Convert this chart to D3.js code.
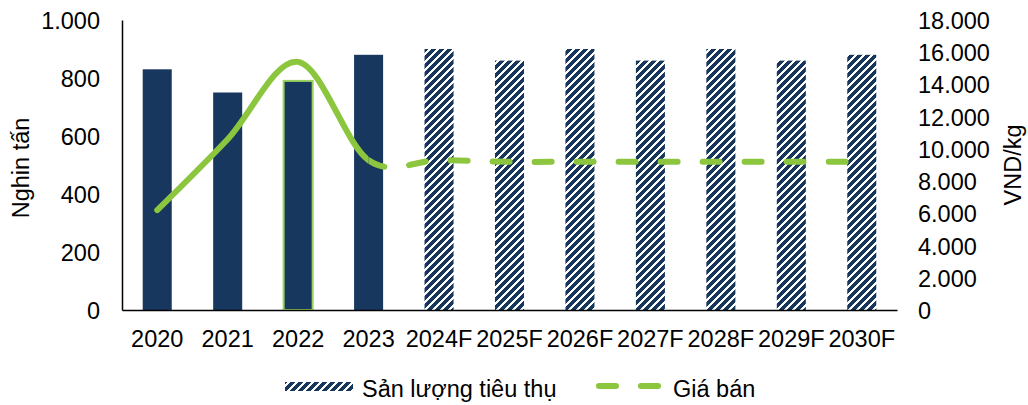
<!DOCTYPE html>
<html>
<head>
<meta charset="utf-8">
<script src="https://cdn.jsdelivr.net/npm/d3@7"></script>
<style>
  html, body { margin: 0; padding: 0; background: #fff; }
  svg { display: block; }
  text { font-family: "Liberation Sans", Arial, sans-serif; fill: #000; }
</style>
</head>
<body>
<svg id="chart" width="1028" height="405"></svg>
<script>
// Categories and series
const categories = ["2020", "2021", "2022", "2023", "2024F", "2025F", "2026F", "2027F", "2028F", "2029F", "2030F"];
const volume = [830, 750, 790, 880, 900, 860, 900, 860, 900, 860, 880];          // Nghìn tấn
const price = [6200, 10600, 15400, 9300, 9300, 9200, 9200, 9200, 9200, 9200, 9200]; // VND/kg
const leftTicks = [0, 200, 400, 600, 800, 1000];
const rightTicks = [0, 2000, 4000, 6000, 8000, 10000, 12000, 14000, 16000, 18000];
const highlighted = ["2022"];
const dashFrom = "2023";
const legendLabels = ["Sản lượng tiêu thụ", "Giá bán"];

const navy = "#17375e";
const green = "#8cc63f";
const fontSize = 23.5;

const svg = d3.select("#chart");
const vn = d3.formatLocale({ decimal: ",", thousands: ".", grouping: [3], currency: ["", "₫"] });
const fmt = vn.format(",d");

const plot = { left: 122, right: 897, top: 20, bottom: 310 };

const x = d3.scaleBand()
  .domain(categories)
  .range([plot.left, plot.right])
  .paddingInner(0.588)
  .paddingOuter(0.294);
const yL = d3.scaleLinear().domain([0, 1000]).range([plot.bottom, plot.top]);
const yR = d3.scaleLinear().domain([0, 18000]).range([plot.bottom, plot.top]);

// Hatched fill for forecast bars (wide upward diagonal)
const defs = svg.append("defs");
const pat = defs.append("pattern")
  .attr("id", "hatch")
  .attr("patternUnits", "userSpaceOnUse")
  .attr("width", 8).attr("height", 8);
pat.append("rect").attr("width", 8).attr("height", 8).attr("fill", "#fff");
for (let r = 0; r < 8; r++) {
  const start = (8 - r) % 8;
  for (let k = 0; k < 5; k++) {
    pat.append("rect")
      .attr("x", (start + k) % 8).attr("y", r)
      .attr("width", 1).attr("height", 1)
      .attr("fill", navy)
      .attr("shape-rendering", "crispEdges");
  }
}

const isForecast = c => c.endsWith("F");

// Bars
svg.append("g").selectAll("rect")
  .data(categories.map((c, i) => ({ c, v: volume[i] })))
  .join("rect")
  .attr("x", d => x(d.c))
  .attr("y", d => yL(d.v))
  .attr("width", x.bandwidth())
  .attr("height", d => yL(0) - yL(d.v))
  .attr("fill", d => isForecast(d.c) ? "url(#hatch)" : navy)
  .attr("stroke", d => highlighted.includes(d.c) ? "#9bd15f" : "none")
  .attr("stroke-width", 2);

// Axes
const axisG = svg.append("g");
axisG.append("g")
  .attr("transform", `translate(${plot.left},0)`)
  .call(d3.axisLeft(yL).tickValues(leftTicks).tickSize(0).tickPadding(22).tickFormat(fmt))
  .call(g => g.select(".domain").attr("stroke", "#000").attr("stroke-width", 1.5))
  .call(g => g.selectAll("text").attr("font-size", fontSize).attr("font-family", "Liberation Sans, Arial, sans-serif").attr("dy", "0.36em"));

axisG.append("g")
  .attr("transform", `translate(${plot.right},0)`)
  .call(d3.axisRight(yR).tickValues(rightTicks).tickSize(0).tickPadding(21).tickFormat(fmt))
  .call(g => g.select(".domain").remove())
  .call(g => g.selectAll("text").attr("font-size", fontSize).attr("font-family", "Liberation Sans, Arial, sans-serif").attr("dy", "0.36em"));

axisG.append("g")
  .attr("transform", `translate(0,${plot.bottom})`)
  .call(d3.axisBottom(x).tickSize(0).tickPadding(20))
  .call(g => g.select(".domain").attr("stroke", "#000").attr("stroke-width", 1.5))
  .call(g => g.selectAll("text").attr("font-size", fontSize).attr("font-family", "Liberation Sans, Arial, sans-serif").attr("dy", "0.71em"));

// Axis titles
svg.append("text")
  .attr("transform", "translate(29,168) rotate(-90)")
  .attr("text-anchor", "middle")
  .attr("font-size", fontSize)
  .text("Nghin tấn");
svg.append("text")
  .attr("transform", "translate(1021,165) rotate(-90)")
  .attr("text-anchor", "middle")
  .attr("font-size", fontSize)
  .text("VND/kg");

// Price line: one smoothed curve, solid for actuals and dashed from 2023 on
const pts = categories.map((c, i) => [x(c) + x.bandwidth() / 2, yR(price[i])]);
const lineGen = d3.line().curve(d3.curveCardinal.tension(0));
const pathD = lineGen(pts);
const xSplit = x(dashFrom) + x.bandwidth() / 2;

defs.append("clipPath").attr("id", "clipSolid")
  .append("rect").attr("x", 0).attr("y", 0).attr("width", xSplit).attr("height", 405);
defs.append("clipPath").attr("id", "clipDash")
  .append("rect").attr("x", xSplit).attr("y", 0).attr("width", 1028 - xSplit).attr("height", 405);

svg.append("path")
  .attr("d", pathD)
  .attr("fill", "none")
  .attr("stroke", green)
  .attr("stroke-width", 6)
  .attr("stroke-linecap", "round")
  .attr("stroke-linejoin", "round")
  .attr("clip-path", "url(#clipSolid)");

const dashPath = svg.append("path")
  .attr("d", pathD)
  .attr("fill", "none")
  .attr("stroke", green)
  .attr("stroke-width", 6)
  .attr("stroke-linecap", "round")
  .attr("stroke-dasharray", "17,25")
  .attr("clip-path", "url(#clipDash)");

// arc length where the curve reaches the split point, so the dashes start there
const node = dashPath.node();
const total = node.getTotalLength();
let lo = 0, hi = total;
for (let k = 0; k < 40; k++) {
  const mid = (lo + hi) / 2;
  if (node.getPointAtLength(mid).x < xSplit) lo = mid; else hi = mid;
}
dashPath.attr("stroke-dashoffset", -lo);

// Legend
const lg = svg.append("g");
lg.append("rect")
  .attr("x", 285).attr("y", 382).attr("width", 68).attr("height", 9)
  .attr("fill", "url(#hatch)");
lg.append("text")
  .attr("x", 362).attr("y", 396.5)
  .attr("font-size", fontSize)
  .text(legendLabels[0]);
lg.append("line")
  .attr("x1", 599).attr("x2", 659).attr("y1", 386).attr("y2", 386)
  .attr("stroke", green).attr("stroke-width", 6)
  .attr("stroke-linecap", "round")
  .attr("stroke-dasharray", "17,25");
lg.append("text")
  .attr("x", 673).attr("y", 396.5)
  .attr("font-size", fontSize)
  .text(legendLabels[1]);
</script>
</body>
</html>
